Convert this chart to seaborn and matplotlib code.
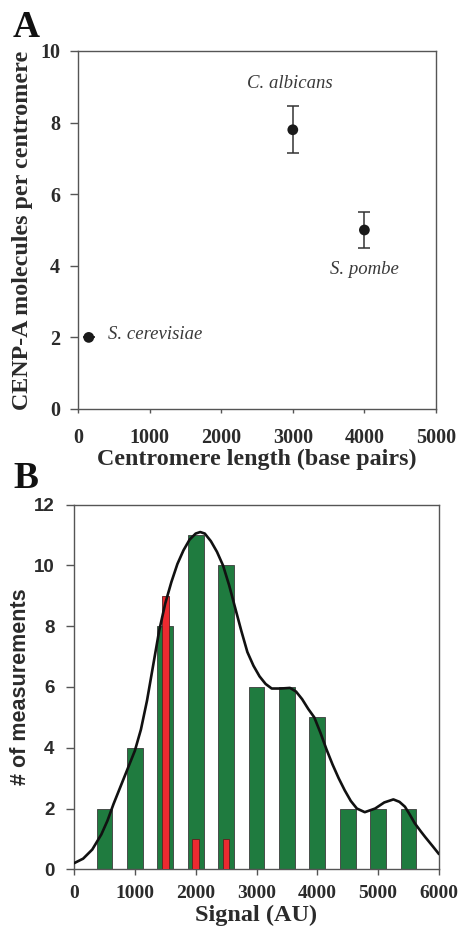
import matplotlib

matplotlib.use("Agg")
import matplotlib.pyplot as plt
import seaborn as sns
import pandas as pd

# Panel A: CENP-A molecules vs centromere length
species = ["S. cerevisiae", "C. albicans", "S. pombe"]
cen_length = [150, 3000, 4000]
cenpa_count = [2.0, 7.8, 5.0]
cenpa_err = [0.0, 0.65, 0.5]

# Panel B: histogram of measurements
green_bins = [500, 1000, 1500, 2000, 2500, 3000, 3500, 4000, 4500, 5000, 5500]
green_counts = [2, 4, 8, 11, 10, 6, 6, 5, 2, 2, 2]
red_bins = [1500, 2000, 2500]
red_counts = [9, 1, 1]

# fitted curve
curve_x = [0, 150, 300, 450, 550, 650, 750, 850, 1000, 1100, 1200, 1300,
           1400, 1500, 1600, 1700, 1800, 1900, 2000, 2075, 2150, 2250, 2350,
           2450, 2550, 2650, 2750, 2850, 2950, 3050, 3150, 3250, 3400, 3550,
           3650, 3750, 3850, 3950, 4050, 4150, 4250, 4350, 4450, 4550, 4650,
           4780, 4950, 5100, 5250, 5350, 5440, 5520, 5600, 5700, 5770, 5900,
           6000]
curve_y = [0.2, 0.35, 0.65, 1.15, 1.6, 2.15, 2.65, 3.15, 3.9, 4.6, 5.55, 6.7,
           7.85, 8.75, 9.45, 10.05, 10.5, 10.85, 11.05, 11.1, 11.05, 10.8,
           10.45, 10.0, 9.35, 8.6, 7.85, 7.15, 6.7, 6.35, 6.1, 5.95, 5.95,
           5.97, 5.85, 5.6, 5.28, 5.0, 4.5, 3.95, 3.45, 3.0, 2.6, 2.25, 2.0,
           1.88, 2.0, 2.2, 2.3, 2.22, 2.06, 1.8, 1.52, 1.25, 1.07, 0.75, 0.5]

sns.set_theme(style="ticks")
plt.rcParams["font.family"] = ["Liberation Serif", "DejaVu Serif"]

SERIF = "Liberation Serif"
SANS = "Liberation Sans"
SPINE = "#555555"
TXT = "#2b2b2b"

fig = plt.figure(figsize=(4.61, 9.33), dpi=100)
ax_a = fig.add_axes([78 / 461, 1 - 409 / 933, 358 / 461, 358 / 933])
ax_b = fig.add_axes([74 / 461, 1 - 869.3 / 933, 365 / 461, 364.6 / 933])

# ---- Panel A ----
df_a = pd.DataFrame({"length": cen_length, "count": cenpa_count, "err": cenpa_err})
ax_a.errorbar(df_a["length"], df_a["count"], yerr=df_a["err"], fmt="none",
              ecolor="#333333", elinewidth=1.1, capsize=4.5, capthick=1.1)
sns.scatterplot(data=df_a, x="length", y="count", ax=ax_a, color="#1a1a1a",
                s=60, edgecolor="none", zorder=3)

label_pos = {
    "S. cerevisiae": (425, 2.07, "left"),
    "C. albicans": (2960, 9.1, "center"),
    "S. pombe": (4000, 3.9, "center"),
}
for name in species:
    lx, ly, ha = label_pos[name]
    ax_a.text(lx, ly, name, family=SERIF, style="italic", fontsize=13.5,
              color="#3a3a3a", ha=ha, va="center")

ax_a.set_xlim(0, 5000)
ax_a.set_ylim(0, 10)
ax_a.set_xticks(range(0, 5001, 1000))
ax_a.set_yticks(range(0, 11, 2))
ax_a.set_xlabel("Centromere length (base pairs)", family=SERIF, fontsize=17.3,
                fontweight="bold", color=TXT)
ax_a.set_ylabel("CENP-A molecules per centromere", family=SERIF, fontsize=17.3,
                fontweight="bold", color=TXT)
ax_a.xaxis.set_label_coords(0.5, -0.112)
ax_a.yaxis.set_label_coords(-0.125, 0.5)
ax_a.tick_params(axis="y", direction="out", length=6, width=1, pad=7,
                 color=SPINE, labelsize=14.5, labelcolor=TXT)
ax_a.tick_params(axis="x", direction="out", length=3, width=1, pad=11,
                 color=SPINE, labelsize=14.5, labelcolor=TXT)
for lbl in ax_a.get_xticklabels() + ax_a.get_yticklabels():
    lbl.set_family(SERIF)
    lbl.set_fontweight("bold")

# ---- Panel B ----
sns.barplot(x=green_bins, y=green_counts, native_scale=True, width=0.52,
            color="#1f7b3f", saturation=1, edgecolor="#3c3c3c", linewidth=0.6,
            errorbar=None, ax=ax_b, zorder=2)
sns.barplot(x=red_bins, y=red_counts, native_scale=True, width=0.22,
            color="#ec2a30", saturation=1, edgecolor="#5a2020", linewidth=0.6,
            errorbar=None, ax=ax_b, zorder=3)
sns.lineplot(x=curve_x, y=curve_y, color="#111111", linewidth=1.9, ax=ax_b,
             zorder=4)

ax_b.set_xlim(0, 6000)
ax_b.set_ylim(0, 12)
ax_b.set_xticks(range(0, 6001, 1000))
ax_b.set_xticklabels([str(v) for v in range(0, 6001, 1000)])
ax_b.set_yticks(range(0, 13, 2))
ax_b.set_xlabel("Signal (AU)", family=SERIF, fontsize=17.5, fontweight="bold",
                color=TXT)
ax_b.set_ylabel("# of measurements", family=SANS, fontsize=15.5,
                fontweight="bold", color=TXT)
ax_b.xaxis.set_label_coords(0.5, -0.098)
ax_b.yaxis.set_label_coords(-0.118, 0.5)
ax_b.tick_params(axis="y", direction="out", length=6, width=1, pad=8,
                 color=SPINE, labelsize=13.5, labelcolor=TXT)
ax_b.tick_params(axis="x", direction="out", length=4, width=1, pad=7,
                 color=SPINE, labelsize=14, labelcolor=TXT)
for lbl in ax_b.get_xticklabels():
    lbl.set_family(SERIF)
    lbl.set_fontweight("bold")
for lbl in ax_b.get_yticklabels():
    lbl.set_family(SANS)
    lbl.set_fontweight("bold")

for ax in (ax_a, ax_b):
    for sp in ax.spines.values():
        sp.set_visible(True)
        sp.set_color(SPINE)
        sp.set_linewidth(1.0)

# panel letters
fig.text(13 / 461, 1 - 37 / 933, "A", family=SERIF, fontsize=27,
         fontweight="bold", color="#111111", va="baseline")
fig.text(13 / 461, 1 - 488 / 933, "B", family=SERIF, fontsize=27,
         fontweight="bold", color="#111111", va="baseline")

fig.savefig("out.png", dpi=100, facecolor="white")
plt.close(fig)
